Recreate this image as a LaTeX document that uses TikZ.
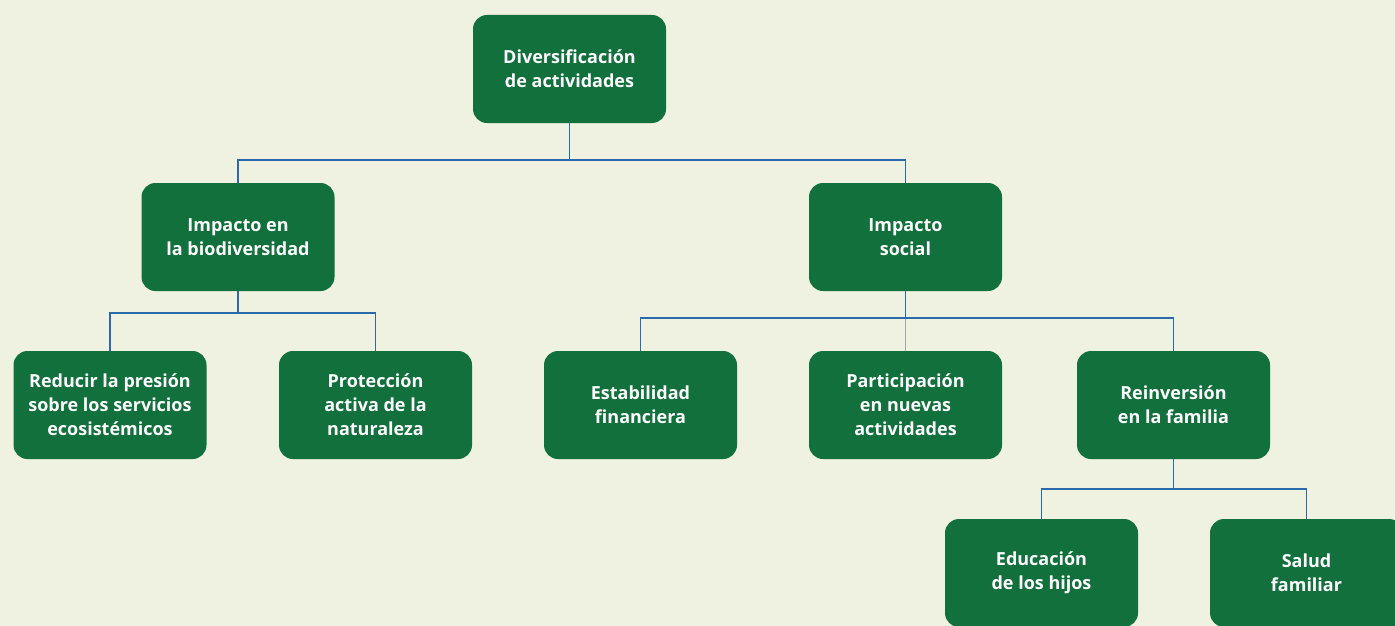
\documentclass[tikz,border=0pt]{standalone}
\usepackage{fontspec}
\setmainfont{Open Sans}
\definecolor{leafgreen}{HTML}{11703C}
\definecolor{paper}{HTML}{EFF2E0}
\definecolor{linkblue}{HTML}{2A69AC}
\begin{document}
\begin{tikzpicture}
    [x=1pt,y=-1pt,
     box/.style={rectangle,rounded corners=14pt,fill=leafgreen,text=white,
       minimum width=193pt,minimum height=108pt,inner sep=0pt,align=center,
       font=\fontsize{18}{24}\selectfont\bfseries},
     link/.style={draw=linkblue,line width=1.6pt},
     greylink/.style={draw=black!35,line width=1.6pt}]

\clip (0,0) rectangle (1395,626);
\fill[paper] (0,0) rectangle (1395,626);

\node[box] (div) at (569.5,69) {Diversificación\\de actividades};

\node[box] (bio) at (238,237) {Impacto en\\la biodiversidad};
\node[box] (soc) at (905.5,237) {Impacto\\social};

\node[box] (red) at (110,405) {Reducir la presión\\sobre los servicios\\ecosistémicos};
\node[box] (prot) at (375.5,405) {Protección\\activa de la\\naturaleza};
\node[box] (estab) at (640.5,405) {Estabilidad\\financiera};
\node[box] (part) at (905.5,405) {Participación\\en nuevas\\actividades};
\node[box] (reinv) at (1173.5,405) {Reinversión\\en la familia};

\node[box] (edu) at (1041.5,573) {Educación\\de los hijos};
\node[box] (salud) at (1306.5,573) {Salud\\familiar};

% connectors
\draw[link] (div.south) -- ++(0,37) -| (bio.north);
\draw[link] (div.south) -- ++(0,37) -| (soc.north);
\draw[link] (bio.south) -- ++(0,22) -| (red.north);
\draw[link] (bio.south) -- ++(0,22) -| (prot.north);
\draw[greylink] (part.north) -- ++(0,-33);
\draw[link] (soc.south) -- ++(0,27) -| (estab.north);
\draw[link] (soc.south) -- ++(0,27) -| (reinv.north);
\draw[link] (reinv.south) -- ++(0,30) -| (edu.north);
\draw[link] (reinv.south) -- ++(0,30) -| (salud.north);

\end{tikzpicture}
\end{document}
